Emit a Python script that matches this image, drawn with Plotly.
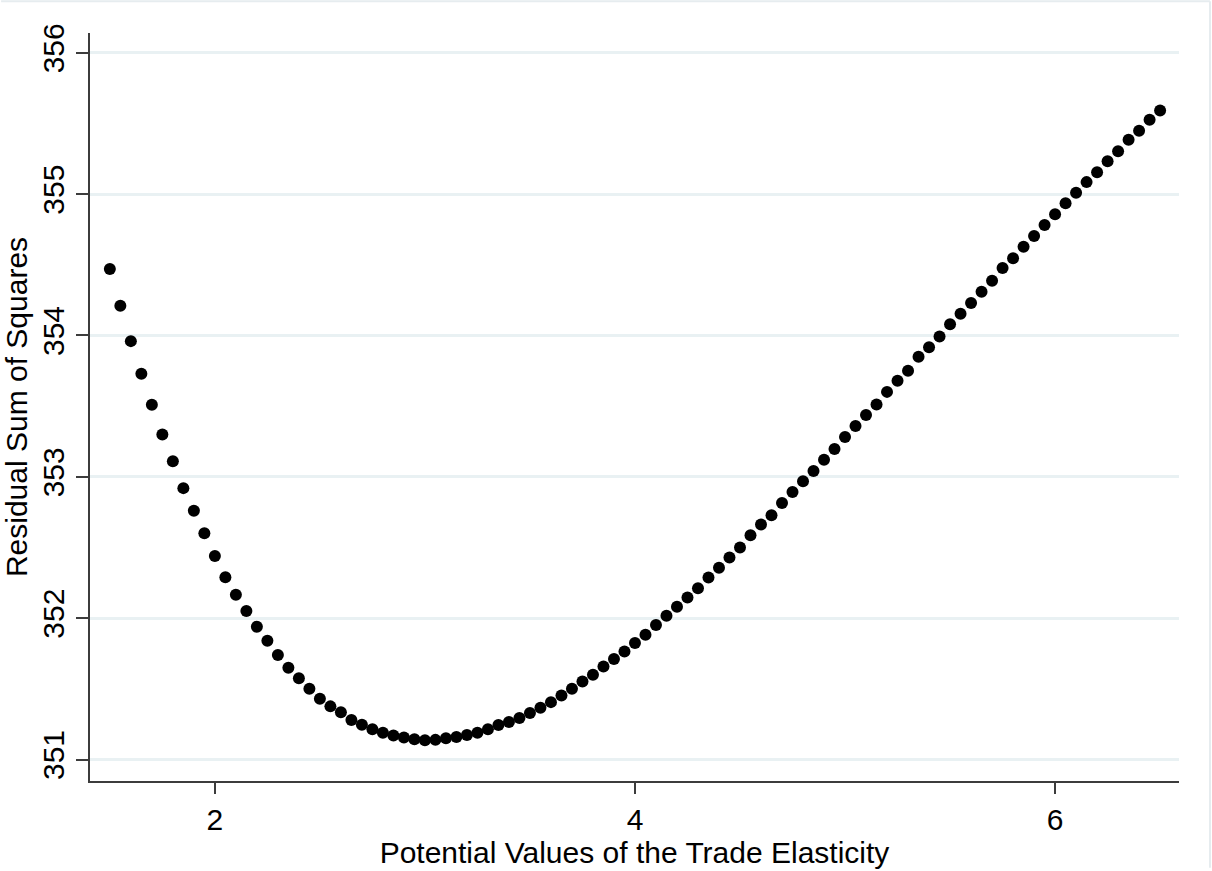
import plotly.graph_objects as go

elasticity = [1.50, 1.55, 1.60, 1.65, 1.70, 1.75, 1.80, 1.85, 1.90, 1.95,
              2.00, 2.05, 2.10, 2.15, 2.20, 2.25, 2.30, 2.35, 2.40, 2.45,
              2.50, 2.55, 2.60, 2.65, 2.70, 2.75, 2.80, 2.85, 2.90, 2.95,
              3.00, 3.05, 3.10, 3.15, 3.20, 3.25, 3.30, 3.35, 3.40, 3.45,
              3.50, 3.55, 3.60, 3.65, 3.70, 3.75, 3.80, 3.85, 3.90, 3.95,
              4.00, 4.05, 4.10, 4.15, 4.20, 4.25, 4.30, 4.35, 4.40, 4.45,
              4.50, 4.55, 4.60, 4.65, 4.70, 4.75, 4.80, 4.85, 4.90, 4.95,
              5.00, 5.05, 5.10, 5.15, 5.20, 5.25, 5.30, 5.35, 5.40, 5.45,
              5.50, 5.55, 5.60, 5.65, 5.70, 5.75, 5.80, 5.85, 5.90, 5.95,
              6.00, 6.05, 6.10, 6.15, 6.20, 6.25, 6.30, 6.35, 6.40, 6.45,
              6.50]

rss = [354.47, 354.21, 353.96, 353.73, 353.51, 353.30, 353.11, 352.92, 352.76, 352.60,
       352.44, 352.29, 352.165, 352.05, 351.94, 351.84, 351.74, 351.65, 351.575, 351.50,
       351.43, 351.376, 351.335, 351.28, 351.246, 351.214, 351.19, 351.17, 351.155, 351.144,
       351.137, 351.139, 351.15, 351.16, 351.174, 351.19, 351.214, 351.245, 351.265, 351.294,
       351.329, 351.366, 351.406, 351.453, 351.50, 351.552, 351.599, 351.658, 351.711, 351.765,
       351.824, 351.883, 351.951, 352.017, 352.08, 352.146, 352.211, 352.287, 352.357, 352.43,
       352.50, 352.587, 352.662, 352.728, 352.815, 352.892, 352.968, 353.042, 353.12, 353.197,
       353.282, 353.359, 353.437, 353.512, 353.601, 353.679, 353.751, 353.85, 353.917, 353.993,
       354.08, 354.153, 354.23, 354.31, 354.387, 354.477, 354.547, 354.627, 354.704, 354.782,
       354.857, 354.935, 355.01, 355.085, 355.155, 355.232, 355.303, 355.385, 355.449, 355.526,
       355.592]

x_ticks = [2, 4, 6]
y_ticks = [351, 352, 353, 354, 355, 356]

x_title = "Potential Values of the Trade Elasticity"
y_title = "Residual Sum of Squares"

FONT = "Liberation Sans, Arial, sans-serif"

fig = go.Figure()
fig.add_trace(go.Scatter(
    x=elasticity, y=rss, mode="markers",
    marker=dict(color="black", size=12, line=dict(width=0)),
    showlegend=False, hoverinfo="x+y",
))

fig.update_layout(
    width=1212, height=871,
    margin=dict(l=89, r=33, t=33, b=87, pad=0),
    paper_bgcolor="white", plot_bgcolor="white",
    font=dict(family=FONT, color="black", size=30),
    xaxis=dict(
        range=[1.4055, 6.590], tickvals=x_ticks, ticktext=[str(v) for v in x_ticks],
        showgrid=False, zeroline=False,
        showline=True, linecolor="#3c3c3c", linewidth=2,
        ticks="outside", ticklen=11, tickwidth=1.5, tickcolor="#3c3c3c",
        tickfont=dict(size=30, family=FONT, color="black"),
        title=dict(text=x_title, font=dict(size=30, family=FONT, color="black"), standoff=2),
    ),
    yaxis=dict(
        range=[350.848, 356.14], tickvals=y_ticks, ticktext=[str(v) for v in y_ticks],
        showgrid=True, gridcolor="#e9f1f3", gridwidth=3, zeroline=False,
        showline=True, linecolor="#3c3c3c", linewidth=2,
        ticks="outside", ticklen=12, tickwidth=1.5, tickcolor="#3c3c3c",
        tickangle=-90,
        tickfont=dict(size=30, family=FONT, color="black"),
        title=dict(text=y_title, font=dict(size=30, family=FONT, color="black"), standoff=4),
    ),
)

# faint outer frame of the exported image (top and right edges)
fig.add_shape(type="line", xref="paper", yref="paper",
              x0=-89/1090, x1=1121/1090, y0=1 + 32/751, y1=1 + 32/751,
              line=dict(color="#e6ecef", width=2))
fig.add_shape(type="line", xref="paper", yref="paper",
              x0=1121/1090, x1=1121/1090, y0=-87/751, y1=1 + 32/751,
              line=dict(color="#e6ecef", width=2))

fig.write_html("out.html")
